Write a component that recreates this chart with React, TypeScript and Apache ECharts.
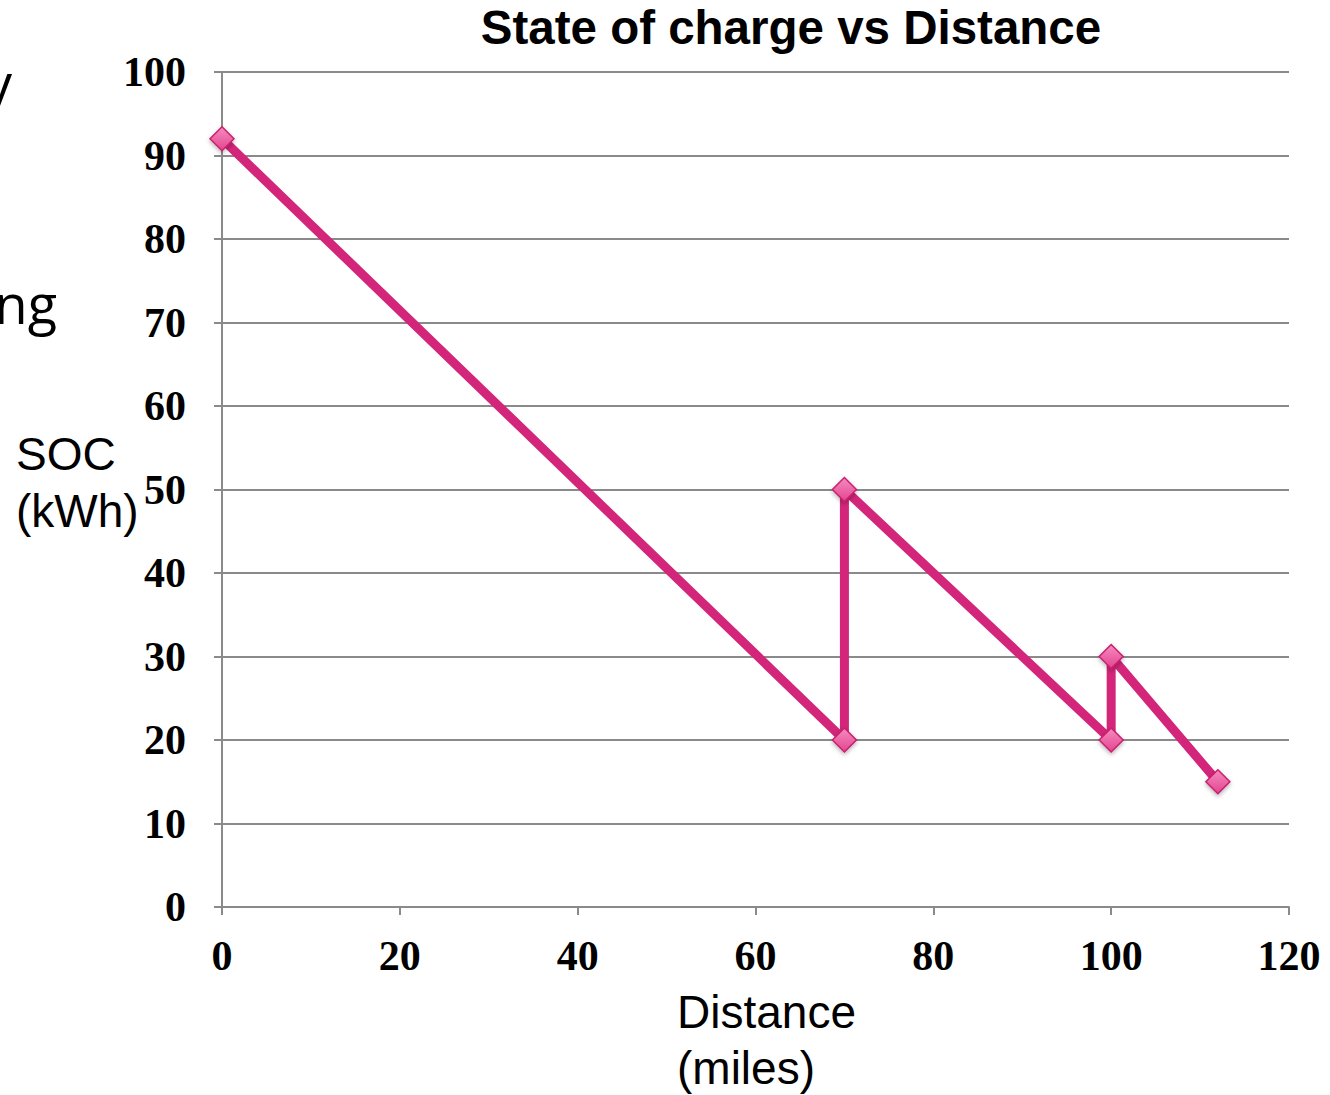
import React, { useEffect, useRef } from "react";
import * as echarts from "echarts";

const distance: number[] = [0, 70, 70, 100, 100, 112];
const soc: number[] = [92, 20, 50, 20, 30, 15];
const xTicks = { min: 0, max: 120, interval: 20 };
const yTicks = { min: 0, max: 100, interval: 10 };
const titleText = "State of charge vs Distance";
const yName = "SOC\n(kWh)";
const xName = "Distance\n(miles)";

export default function App() {
  const ref = useRef<HTMLDivElement>(null);
  useEffect(() => {
    if (!ref.current) return;
    const chart = echarts.init(ref.current, null, { renderer: "svg" });
    const gray = "#8a8a8a";
    const labelFont = {
      fontFamily: "Liberation Serif",
      fontWeight: "bold" as const,
      fontSize: 42,
      color: "#000",
    };
    chart.setOption({
      animation: false,
      backgroundColor: "#ffffff",
      grid: { left: 222, right: 41, top: 72, bottom: 188, containLabel: false },
      xAxis: {
        type: "value",
        min: xTicks.min,
        max: xTicks.max,
        interval: xTicks.interval,
        axisLine: { show: true, lineStyle: { color: gray, width: 2 } },
        axisTick: { show: true, length: 8, inside: false, lineStyle: { color: gray, width: 2 } },
        splitLine: { show: false },
        axisLabel: { ...labelFont, margin: 28 },
      },
      yAxis: {
        type: "value",
        min: yTicks.min,
        max: yTicks.max,
        interval: yTicks.interval,
        axisLine: { show: true, lineStyle: { color: gray, width: 2 } },
        axisTick: { show: true, length: 8, inside: false, lineStyle: { color: gray, width: 2 } },
        splitLine: { show: true, lineStyle: { color: gray, width: 2 } },
        axisLabel: { ...labelFont, margin: 36, padding: [0, 0, 6, 0] },
      },
      series: [
        {
          type: "line",
          data: distance.map((d, i) => [d, soc[i]]),
          lineStyle: { color: "#d3267a", width: 9 },
          symbol: "diamond",
          symbolSize: 24,
          showAllSymbol: true,
          itemStyle: {
            color: new echarts.graphic.LinearGradient(0, 0, 0, 1, [
              { offset: 0, color: "#f58cc0" },
              { offset: 1, color: "#e4448f" },
            ]),
            borderColor: "#c8206d",
            borderWidth: 1.5,
            shadowColor: "rgba(0,0,0,0.3)",
            shadowBlur: 4,
            shadowOffsetY: 2,
          },
          z: 3,
        },
      ],
      graphic: [
        {
          type: "text",
          x: 791,
          y: 27,
          style: {
            text: titleText,
            font: "bold 47.5px 'Liberation Sans', Arial, sans-serif",
            fill: "#000",
            align: "center",
            verticalAlign: "middle",
          },
        },
        {
          type: "text",
          x: 16,
          y: 482,
          style: {
            text: yName,
            font: "46px 'Liberation Sans', Arial, sans-serif",
            fill: "#000",
            align: "left",
            verticalAlign: "middle",
            lineHeight: 57,
          },
        },
        {
          type: "text",
          x: 677,
          y: 1040,
          style: {
            text: xName,
            font: "46px 'Liberation Sans', Arial, sans-serif",
            fill: "#000",
            align: "left",
            verticalAlign: "middle",
            lineHeight: 56,
          },
        },
        {
          type: "text",
          x: 57,
          y: 303,
          style: {
            text: "ng",
            font: "54px 'Open Sans', 'Noto Sans', sans-serif",
            fill: "#000",
            align: "right",
            verticalAlign: "middle",
          },
        },
        {
          type: "text",
          x: 12,
          y: 82,
          style: {
            text: "y",
            font: "54px 'Open Sans', 'Noto Sans', sans-serif",
            fill: "#000",
            align: "right",
            verticalAlign: "middle",
          },
        },
      ],
    });
    return () => chart.dispose();
  }, []);
  return (
    <div
      ref={ref}
      style={{ position: "fixed", left: 0, top: 0, width: 1330, height: 1095 }}
    />
  );
}
